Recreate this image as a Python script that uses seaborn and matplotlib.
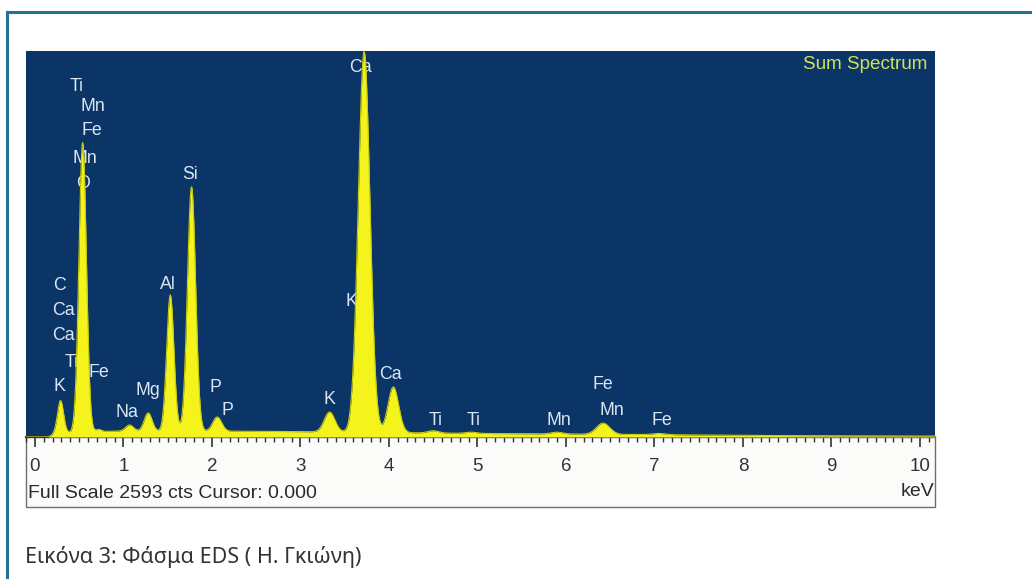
import numpy as np
import matplotlib
matplotlib.use("Agg")
import matplotlib.pyplot as plt
import seaborn as sns
from matplotlib.ticker import MultipleLocator
from matplotlib.patches import Rectangle
from matplotlib.lines import Line2D

# ---------------- data ----------------
# peak centres (keV), net heights above continuum (counts), widths (sigma, keV)
peak_energy = [0.29, 0.54, 0.72, 1.07, 1.28, 1.53, 1.77, 2.06, 3.33, 3.72, 4.05, 4.50, 4.93, 5.90, 6.42, 7.05]
peak_counts = [220, 1945, 14, 41, 122, 916, 1644, 95, 134, 2561, 307, 15, 8, 12, 75, 8]
peak_sigma  = [0.034, 0.042, 0.03, 0.044, 0.044, 0.041, 0.046, 0.05, 0.06, 0.066, 0.06, 0.06, 0.06, 0.065, 0.075, 0.07]

# continuum (bremsstrahlung background)
bg_energy = [-0.10, 0.15, 0.22, 0.50, 1.00, 2.00, 3.00, 4.00, 5.00, 6.00, 7.00, 8.00, 9.00, 10.20]
bg_counts = [0, 0, 22, 35, 40, 40, 36, 30, 24, 20, 16, 11, 8, 6]

# element labels (text, keV, counts)
label_text = ["Ti", "Mn", "Fe", "Mn", "O", "Si", "Ca", "C", "Ca", "Ca", "Ti", "Fe", "K",
              "Na", "Mg", "Al", "P", "P", "K", "K", "Ca", "Ti", "Ti", "Mn", "Fe", "Mn", "Fe"]
label_x = [0.475, 0.655, 0.644, 0.565, 0.542, 1.751, 3.684, 0.282, 0.328, 0.328, 0.418, 0.723, 0.282,
           1.04, 1.277, 1.503, 2.045, 2.181, 3.333, 3.582, 4.023, 4.531, 4.960, 5.921, 6.418, 6.520, 7.085]
label_y = [2357, 2223, 2061, 1872, 1704, 1765, 2485, 1017, 849, 680, 498, 431, 343,
           168, 310, 1024, 330, 175, 249, 909, 418, 114, 114, 108, 350, 175, 108]

x_ticks = [0, 1, 2, 3, 4, 5, 6, 7, 8, 9, 10]
full_scale = 2593

# ---------------- spectrum construction ----------------
E = np.arange(-0.10, 10.20, 0.004)
spec = np.interp(E, bg_energy, bg_counts)
for e0, h, s in zip(peak_energy, peak_counts, peak_sigma):
    spec = spec + h * np.exp(-0.5 * ((E - e0) / s) ** 2)

# ---------------- figure ----------------
W, H = 1032, 579
fig = plt.figure(figsize=(W / 100, H / 100), dpi=100)
fig.patch.set_facecolor("white")

def fx(px):
    return px / W

def fy(py):
    return 1 - py / H

# white strip box under the spectrum (drawn below the axes)
fig.patches.append(Rectangle((fx(26), fy(507)), fx(935) - fx(26), fy(437) - fy(507),
                             transform=fig.transFigure, facecolor="#fbfbfa",
                             edgecolor="#6e6e6e", lw=1.0, zorder=0))

navy = "#0a3566"
ax = fig.add_axes([fx(26), fy(437), fx(935) - fx(26), fy(51) - fy(437)])
ax.set_zorder(2)
ax.set_facecolor(navy)

ax.fill_between(E, 0, spec, color="#f4f41c", lw=0, zorder=4)
sns.lineplot(x=E, y=spec, ax=ax, color="#c9c90e", lw=0.8, zorder=5)

for t, x, y in zip(label_text, label_x, label_y):
    ax.text(x, y, t, ha="center", va="center", fontsize=12.8, color="#dce6f2",
            family="Liberation Sans", zorder=3)

ax.text(0.992, 0.965, "Sum Spectrum", transform=ax.transAxes, ha="right", va="center",
        fontsize=13.6, color="#cfe35a", family="Liberation Sans", zorder=6)

ax.set_xlim(-0.10, 10.17)
ax.set_ylim(0, full_scale + 4)
ax.set_xticks(x_ticks)
ax.set_xticklabels([str(v) for v in x_ticks], family="Liberation Sans", fontsize=13.5, color="#333333")
ax.xaxis.set_minor_locator(MultipleLocator(0.1))
ax.tick_params(axis="x", which="major", direction="out", length=7, width=1.2, color="#333333", pad=8)
ax.tick_params(axis="x", which="minor", direction="out", length=3.5, width=1.0, color="#333333")
ax.set_yticks([])
ax.set_xlabel("")
ax.set_ylabel("")
for side in ["top", "left", "right"]:
    ax.spines[side].set_visible(False)
ax.spines["bottom"].set_color("#333333")
ax.spines["bottom"].set_linewidth(1.5)

fig.text(fx(28), fy(493), "Full Scale 2593 cts Cursor: 0.000", ha="left", va="center",
         fontsize=14.0, color="#2a2a2a", family="Liberation Sans")
fig.text(fx(934), fy(491), "keV", ha="right", va="center",
         fontsize=14, color="#2a2a2a", family="Liberation Sans")

# outer frame
frame_c = "#23718f"
fig.lines.append(Line2D([fx(7), fx(7)], [fy(12), 0], transform=fig.transFigure, color=frame_c, lw=2.2))
fig.lines.append(Line2D([fx(7), 1], [fy(12), fy(12)], transform=fig.transFigure, color=frame_c, lw=2.2))

fig.text(fx(25), fy(557), "Εικόνα 3: Φάσμα EDS ( Η. Γκιώνη)", ha="left", va="center",
         fontsize=15.5, color="#333333", family=["Noto Sans", "DejaVu Sans"])

fig.savefig("out.png", dpi=100)
